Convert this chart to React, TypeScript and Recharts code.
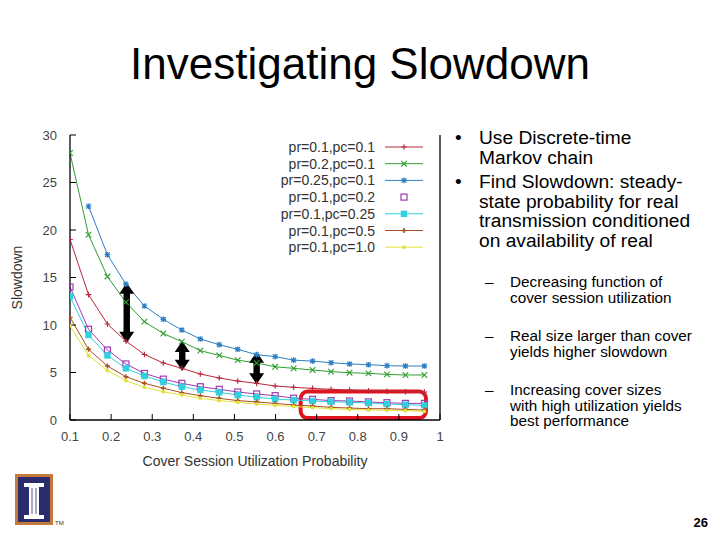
import React from 'react';
import { LineChart, Line, XAxis, YAxis, ReferenceLine, ReferenceArea, Legend } from 'recharts';

// ---------- data ----------
const utilization = [0.1, 0.145, 0.191, 0.236, 0.281, 0.327, 0.372, 0.417, 0.463, 0.508, 0.554, 0.599, 0.644, 0.69, 0.735, 0.78, 0.826, 0.871, 0.916, 0.962];
const pr01pc01 = [19.0, 13.2, 10.1, 8.3, 6.9, 6.0, 5.44, 4.84, 4.42, 4.1, 3.86, 3.58, 3.44, 3.33, 3.23, 3.15, 3.08, 3.02, 2.97, 2.93];
const pr02pc01 = [28.1, 19.5, 15.1, 12.4, 10.35, 9.1, 8.25, 7.3, 6.8, 6.3, 6.0, 5.6, 5.44, 5.26, 5.09, 4.98, 4.91, 4.8, 4.74, 4.74];
const pr025pc01 = [null, 22.5, 17.4, 14.3, 12.0, 10.6, 9.47, 8.53, 7.93, 7.44, 6.88, 6.67, 6.3, 6.2, 6.03, 5.9, 5.82, 5.72, 5.68, 5.68];
const pr01pc02 = [14.0, 9.55, 7.37, 5.9, 4.9, 4.3, 3.86, 3.5, 3.23, 2.95, 2.74, 2.56, 2.3, 2.18, 2.04, 2.0, 1.9, 1.82, 1.75, 1.75];
const pr01pc025 = [13.0, 8.95, 6.8, 5.44, 4.63, 4.0, 3.5, 3.16, 2.91, 2.63, 2.39, 2.21, 2.1, 2.0, 1.93, 1.86, 1.79, 1.68, 1.61, 1.54];
const pr01pc05 = [10.8, 7.44, 5.68, 4.56, 3.86, 3.35, 2.88, 2.56, 2.28, 2.04, 1.9, 1.75, 1.58, 1.47, 1.33, 1.26, 1.19, 1.19, 1.12, 1.05];
const pr01pc10 = [9.9, 6.8, 5.2, 4.14, 3.44, 2.98, 2.63, 2.28, 2.04, 1.86, 1.68, 1.54, 1.42, 1.3, 1.19, 1.12, 1.05, 1.02, 0.98, 0.91];

const seriesNames = ['pr=0.1,pc=0.1', 'pr=0.2,pc=0.1', 'pr=0.25,pc=0.1', 'pr=0.1,pc=0.2', 'pr=0.1,pc=0.25', 'pr=0.1,pc=0.5', 'pr=0.1,pc=1.0'];
const seriesValues = [pr01pc01, pr02pc01, pr025pc01, pr01pc02, pr01pc025, pr01pc05, pr01pc10];

const xTicks = [0.1, 0.2, 0.3, 0.4, 0.5, 0.6, 0.7, 0.8, 0.9, 1];
const xTickLabels = ['0.1', '0.2', '0.3', '0.4', '0.5', '0.6', '0.7', '0.8', '0.9', '1'];
const yTicks = [0, 5, 10, 15, 20, 25, 30];

// annotation positions (data coords)
const arrowX = [0.238, 0.373, 0.554];
const arrowTop = [14.45, 8.32, 7.19];
const arrowBottom = [8.14, 5.19, 3.76];
const boxX = [0.661, 0.966];
const boxY = [0.2, 3.0];

// ---------- styles ----------
const seriesColors = ['#b8283a', '#2f9e2f', '#2f7fc4', '#a23ab4', '#2fd2de', '#a8501e', '#e2e23a'];
const seriesMarkers = ['plus', 'cross', 'star', 'square', 'fsquare', 'splus', 'dot'];
const seriesLegendLine = [true, true, true, false, true, true, true];

const FONT = "'Liberation Sans', Arial, Helvetica, sans-serif";

const data = utilization.map((x, i) => {
  const row: any = { x };
  seriesValues.forEach((vals, k) => {
    row['s' + k] = vals[i];
  });
  return row;
});

function Marker({ cx, cy, kind, color }: { cx: any; cy: any; kind: string; color: string }) {
  if (cx == null || cy == null || isNaN(cx) || isNaN(cy)) return <g />;
  const s = 2.8;
  switch (kind) {
    case 'plus':
      return <path d={`M${cx - s},${cy}H${cx + s}M${cx},${cy - s}V${cy + s}`} stroke={color} strokeWidth={1.1} fill="none" />;
    case 'splus':
      return <path d={`M${cx - 2.5},${cy}H${cx + 2.5}M${cx},${cy - 2.5}V${cy + 2.5}`} stroke={color} strokeWidth={1.5} fill="none" />;
    case 'cross':
      return <path d={`M${cx - s},${cy - s}L${cx + s},${cy + s}M${cx - s},${cy + s}L${cx + s},${cy - s}`} stroke={color} strokeWidth={1.1} fill="none" />;
    case 'star':
      return (
        <path
          d={`M${cx - s},${cy}H${cx + s}M${cx},${cy - s}V${cy + s}M${cx - 2.3},${cy - 2.3}L${cx + 2.3},${cy + 2.3}M${cx - 2.3},${cy + 2.3}L${cx + 2.3},${cy - 2.3}`}
          stroke={color}
          strokeWidth={1.2}
          fill="none"
        />
      );
    case 'square':
      return <rect x={cx - 3} y={cy - 3} width={6} height={6} stroke={color} strokeWidth={1.2} fill="none" />;
    case 'fsquare':
      return <rect x={cx - 3.2} y={cy - 3.2} width={6.4} height={6.4} fill={color} />;
    default:
      return <circle cx={cx} cy={cy} r={1.9} fill={color} />;
  }
}

function DoubleArrow(props: any) {
  const { x1, y1, x2, y2 } = props;
  if (x1 == null) return <g />;
  const x = (x1 + x2) / 2;
  const top = Math.min(y1, y2);
  const bot = Math.max(y1, y2);
  const hw = 7.5;
  const hh = 11;
  const sw = 3.2;
  return (
    <g>
      <polygon points={`${x},${top} ${x + hw},${top + hh} ${x - hw},${top + hh}`} fill="#000" />
      <polygon points={`${x},${bot} ${x + hw},${bot - hh} ${x - hw},${bot - hh}`} fill="#000" />
      <rect x={x - sw} y={top + hh - 1} width={sw * 2} height={Math.max(0, bot - top - 2 * hh + 2)} fill="#000" />
    </g>
  );
}

function RoundBox(props: any) {
  const { x, y, width, height } = props;
  if (x == null) return <g />;
  return <rect x={x} y={y} width={width} height={height} rx={7} ry={7} fill="none" stroke="#e0141e" strokeWidth={4} />;
}

function renderLegend() {
  return (
    <svg width={170} height={118} style={{ display: 'block', overflow: 'visible' }}>
      {seriesNames.map((name, i) => {
        const y = 9 + i * 16.7;
        return (
          <g key={name}>
            <text x={105} y={y} dy="0.36em" textAnchor="end" fontSize={14} fill="#333" fontFamily={FONT}>
              {name}
            </text>
            {seriesLegendLine[i] && <line x1={115} x2={153} y1={y} y2={y} stroke={seriesColors[i]} strokeWidth={1} />}
            <Marker cx={134} cy={y} kind={seriesMarkers[i]} color={seriesColors[i]} />
          </g>
        );
      })}
    </svg>
  );
}

function Logo() {
  return (
    <svg width={60} height={60} style={{ position: 'absolute', left: 12, top: 470 }}>
      <rect x={3} y={4} width={38} height={51} fill="#c47a3a" />
      <rect x={6} y={7} width={32} height={45} fill="#2a2c6e" />
      <rect x={12} y={13} width={20} height={4} fill="#fff" />
      <rect x={17} y={17} width={10} height={28} fill="#fff" />
      <line x1={20} y1={18} x2={20} y2={44} stroke="#2a2c6e" strokeWidth={0.8} />
      <line x1={24} y1={18} x2={24} y2={44} stroke="#2a2c6e" strokeWidth={0.8} />
      <rect x={12} y={45} width={20} height={4} fill="#fff" />
      <text x={43} y={55} fontSize={6} fill="#333" fontFamily={FONT}>TM</text>
    </svg>
  );
}

export default function App() {
  return (
    <div style={{ position: 'absolute', left: 0, top: 0, width: 720, height: 540, background: '#fff', overflow: 'hidden', fontFamily: FONT }}>
      <div style={{ position: 'absolute', left: 0, top: 42, width: 720, textAlign: 'center', fontSize: 44, lineHeight: '44px', color: '#000' }}>
        Investigating Slowdown
      </div>

      <div style={{ position: 'absolute', left: 0, top: 0 }}>
        <LineChart width={720} height={540} data={data} margin={{ top: 134, right: 270, bottom: 90, left: 10 }}>
          <XAxis
            dataKey="x"
            type="number"
            domain={[0.1, 1]}
            ticks={xTicks}
            interval={0}
            allowDataOverflow
            height={30}
            tickSize={6}
            tickMargin={6}
            tickFormatter={(v: number) => xTickLabels[xTicks.indexOf(v)] ?? String(v)}
            tick={{ fontSize: 13, fill: '#444', fontFamily: FONT }}
            axisLine={{ stroke: '#000', strokeWidth: 1.3 }}
            tickLine={{ stroke: '#000', transform: 'translate(0,-6)' } as any}
            label={{
              content: (p: any) => {
                const vb = p.viewBox || {};
                return (
                  <text x={vb.x + vb.width / 2} y={461} dy="0.36em" textAnchor="middle" fontSize={14} fill="#333" fontFamily={FONT}>
                    Cover Session Utilization Probability
                  </text>
                );
              },
            }}
          />
          <XAxis
            xAxisId="t"
            orientation="top"
            type="number"
            domain={[0.1, 1]}
            ticks={xTicks}
            interval={0}
            height={1}
            tick={false}
            axisLine={false}
            tickSize={6}
            tickLine={{ stroke: '#000', transform: 'translate(0,6)' } as any}
          />
          <YAxis
            type="number"
            domain={[0, 30]}
            ticks={yTicks}
            interval={0}
            allowDataOverflow
            width={60}
            tickSize={6}
            tickMargin={7}
            tick={{ fontSize: 13, fill: '#444', fontFamily: FONT }}
            axisLine={{ stroke: '#000', strokeWidth: 1.3 }}
            tickLine={{ stroke: '#000', transform: 'translate(6,0)' } as any}
            label={{
              content: (p: any) => {
                const vb = p.viewBox || {};
                const cx = 17;
                const cy = vb.y + vb.height / 2;
                return (
                  <text x={cx} y={cy} dy="0.36em" textAnchor="middle" fontSize={14} fill="#333" fontFamily={FONT} transform={`rotate(-90, ${cx}, ${cy})`}>
                    Slowdown
                  </text>
                );
              },
            }}
          />
          <YAxis
            yAxisId="r"
            orientation="right"
            type="number"
            domain={[0, 30]}
            ticks={yTicks}
            interval={0}
            width={10}
            tick={false}
            tickSize={6}
            axisLine={{ stroke: '#000', strokeWidth: 1.3 }}
            tickLine={{ stroke: '#000', transform: 'translate(-6,0)' } as any}
          />

          {seriesNames.map((name, i) => (
            <Line
              key={name}
              name={name}
              dataKey={'s' + i}
              type="linear"
              stroke={seriesColors[i]}
              strokeWidth={1}
              isAnimationActive={false}
              activeDot={false}
              dot={(p: any) => <Marker key={`${i}-${p.index}`} cx={p.cx} cy={p.cy} kind={seriesMarkers[i]} color={seriesColors[i]} />}
            />
          ))}

          <ReferenceArea x1={boxX[0]} x2={boxX[1]} y1={boxY[0]} y2={boxY[1]} ifOverflow="visible" shape={(p: any) => <RoundBox {...p} />} />
          {arrowX.map((ax, i) => (
            <ReferenceLine
              key={'arrow' + i}
              segment={[
                { x: ax, y: arrowTop[i] },
                { x: ax, y: arrowBottom[i] },
              ]}
              ifOverflow="visible"
              shape={(p: any) => <DoubleArrow {...p} />}
            />
          ))}

          <Legend
            layout="vertical"
            align="center"
            verticalAlign="middle"
            content={renderLegend}
            wrapperStyle={{ position: 'absolute', left: 270, top: 138, width: 170, height: 118 }}
          />
        </LineChart>
      </div>

      {/* bullet points */}
      <div style={{ position: 'absolute', left: 455, top: 128, width: 262, fontSize: 19.2, lineHeight: '19.5px', color: '#000' }}>
        <div style={{ display: 'flex' }}>
          <span style={{ width: 24, flex: 'none' }}>•</span>
          <span>Use Discrete-time<br />Markov chain</span>
        </div>
        <div style={{ display: 'flex', marginTop: 5 }}>
          <span style={{ width: 24, flex: 'none' }}>•</span>
          <span>Find Slowdown: steady-<br />state probability for real<br />transmission conditioned<br />on availability of real</span>
        </div>
      </div>

      <div style={{ position: 'absolute', left: 485, top: 274, width: 232, fontSize: 15.3, lineHeight: '15.5px', color: '#000' }}>
        <div style={{ display: 'flex' }}>
          <span style={{ width: 25, flex: 'none' }}>–</span>
          <span>Decreasing function of<br />cover session utilization</span>
        </div>
        <div style={{ display: 'flex', marginTop: 23 }}>
          <span style={{ width: 25, flex: 'none' }}>–</span>
          <span>Real size larger than cover<br />yields higher slowdown</span>
        </div>
        <div style={{ display: 'flex', marginTop: 23 }}>
          <span style={{ width: 25, flex: 'none' }}>–</span>
          <span>Increasing cover sizes<br />with high utilization yields<br />best performance</span>
        </div>
      </div>

      <div style={{ position: 'absolute', left: 680, top: 515, width: 28, textAlign: 'right', fontSize: 13, fontWeight: 'bold', lineHeight: '16px', color: '#000' }}>
        26
      </div>

      <Logo />
    </div>
  );
}
